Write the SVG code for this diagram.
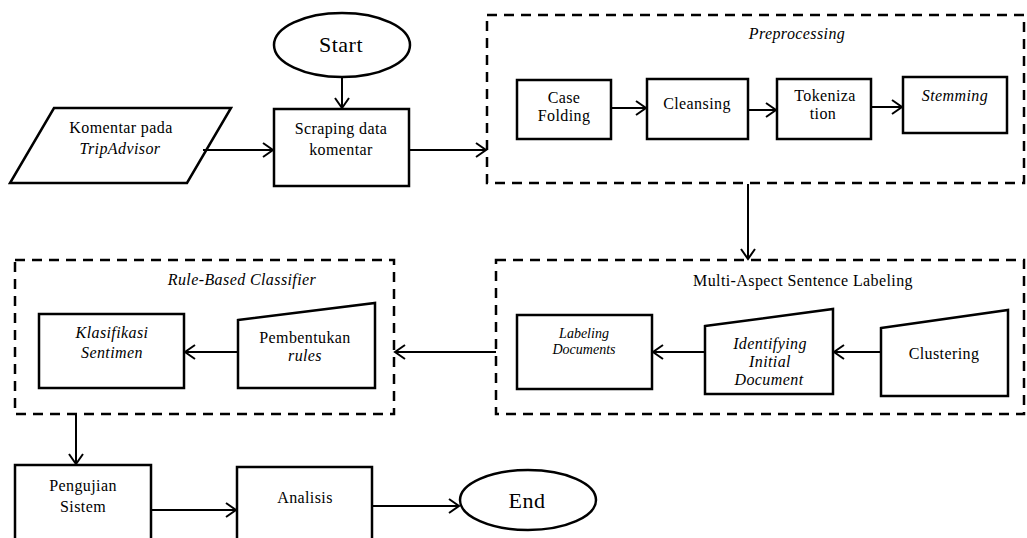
<svg xmlns="http://www.w3.org/2000/svg" width="1027" height="538" viewBox="0 0 1027 538">
<style>
.box{fill:#fff;stroke:#000;stroke-width:2.5}
.grp{fill:none;stroke:#000;stroke-width:2.5;stroke-dasharray:10 7}
.ln{fill:none;stroke:#000;stroke-width:2;marker-end:url(#ah)}
text{font-family:"Liberation Serif","Times New Roman",serif;font-size:16px;letter-spacing:0.4px;text-anchor:middle;fill:#000}
.it{font-style:italic}
.big{font-size:22px;letter-spacing:0.5px}
</style>
<defs>
<marker id="ah" markerUnits="userSpaceOnUse" markerWidth="14" markerHeight="16" refX="11" refY="8" orient="auto">
<path d="M1,1 L11,8 L1,15" fill="none" stroke="#000" stroke-width="2"/>
</marker>
</defs>
<rect width="1027" height="538" fill="#fff"/>

<g id="preprocessing">
<rect class="grp" x="487" y="15" width="537" height="168"/>
<text class="it" x="797" y="39">Preprocessing</text>
</g>
<g id="masl">
<rect class="grp" x="496" y="260" width="528" height="154"/>
<text x="803" y="286">Multi-Aspect Sentence Labeling</text>
</g>
<g id="rulebased">
<rect class="grp" x="15" y="260" width="379" height="154"/>
<text class="it" x="242" y="285">Rule-Based Classifier</text>
</g>

<g id="start">
<ellipse class="box" cx="342" cy="45" rx="68" ry="32"/>
<text class="big" x="341" y="52">Start</text>
</g>
<g id="komentar">
<polygon class="box" points="54,108 231,108 187,183 10,183"/>
<text x="121" y="133">Komentar pada</text>
<text class="it" x="120" y="154">TripAdvisor</text>
</g>
<g id="scraping">
<rect class="box" x="274" y="109" width="135" height="77"/>
<text x="341" y="134">Scraping data</text>
<text x="341" y="155">komentar</text>
</g>
<g id="casefolding">
<rect class="box" x="517" y="80" width="94" height="59"/>
<text x="564" y="103">Case</text>
<text x="564" y="121">Folding</text>
</g>
<g id="cleansing">
<rect class="box" x="647" y="79" width="101" height="60"/>
<text x="697" y="109">Cleansing</text>
</g>
<g id="tokenization">
<rect class="box" x="777" y="79" width="94" height="60"/>
<text x="825" y="101">Tokeniza</text>
<text x="823" y="119">tion</text>
</g>
<g id="stemming">
<rect class="box" x="903" y="77" width="104" height="56"/>
<text class="it" x="955" y="101">Stemming</text>
</g>
<g id="clustering">
<polygon class="box" points="881,328 1008,310 1008,396 881,396"/>
<text x="944" y="359">Clustering</text>
</g>
<g id="identifying">
<polygon class="box" points="705,326 833,309 833,394 705,394"/>
<text class="it" x="770" y="349">Identifying</text>
<text class="it" x="770" y="367">Initial</text>
<text class="it" x="769" y="385">Document</text>
</g>
<g id="labeling">
<rect class="box" x="517" y="315" width="135" height="74"/>
<text class="it" x="584" y="338" style="font-size:14px;letter-spacing:0">Labeling</text>
<text class="it" x="584" y="354" style="font-size:14px;letter-spacing:0">Documents</text>
</g>
<g id="pembentukan">
<polygon class="box" points="238,320 375,303 375,388 238,388"/>
<text x="305" y="343">Pembentukan</text>
<text class="it" x="305" y="361">rules</text>
</g>
<g id="klasifikasi">
<rect class="box" x="39" y="314" width="145" height="74"/>
<text class="it" x="112" y="338">Klasifikasi</text>
<text class="it" x="112" y="358">Sentimen</text>
</g>
<g id="pengujian">
<rect class="box" x="15" y="465" width="136" height="90"/>
<text x="83" y="491">Pengujian</text>
<text x="83" y="512">Sistem</text>
</g>
<g id="analisis">
<rect class="box" x="237" y="467" width="135" height="90"/>
<text x="305" y="503">Analisis</text>
</g>
<g id="end">
<ellipse class="box" cx="528" cy="500" rx="68" ry="30"/>
<text class="big" x="527" y="508">End</text>
</g>

<g id="connectors">
<line class="ln" x1="342" y1="77" x2="342" y2="108"/>
<line class="ln" x1="203" y1="150" x2="273" y2="150"/>
<line class="ln" x1="409" y1="150" x2="486" y2="150"/>
<line class="ln" x1="611" y1="108" x2="646" y2="108"/>
<line class="ln" x1="748" y1="110" x2="776" y2="110"/>
<line class="ln" x1="871" y1="107" x2="902" y2="107"/>
<line class="ln" x1="748" y1="184" x2="748" y2="259"/>
<line class="ln" x1="881" y1="352" x2="834" y2="352"/>
<line class="ln" x1="705" y1="352" x2="653" y2="352"/>
<line class="ln" x1="496" y1="352" x2="395" y2="352"/>
<line class="ln" x1="238" y1="352" x2="185" y2="352"/>
<line class="ln" x1="76" y1="414" x2="76" y2="464"/>
<line class="ln" x1="151" y1="510" x2="236" y2="510"/>
<line class="ln" x1="372" y1="506" x2="459" y2="506"/>
</g>
</svg>
